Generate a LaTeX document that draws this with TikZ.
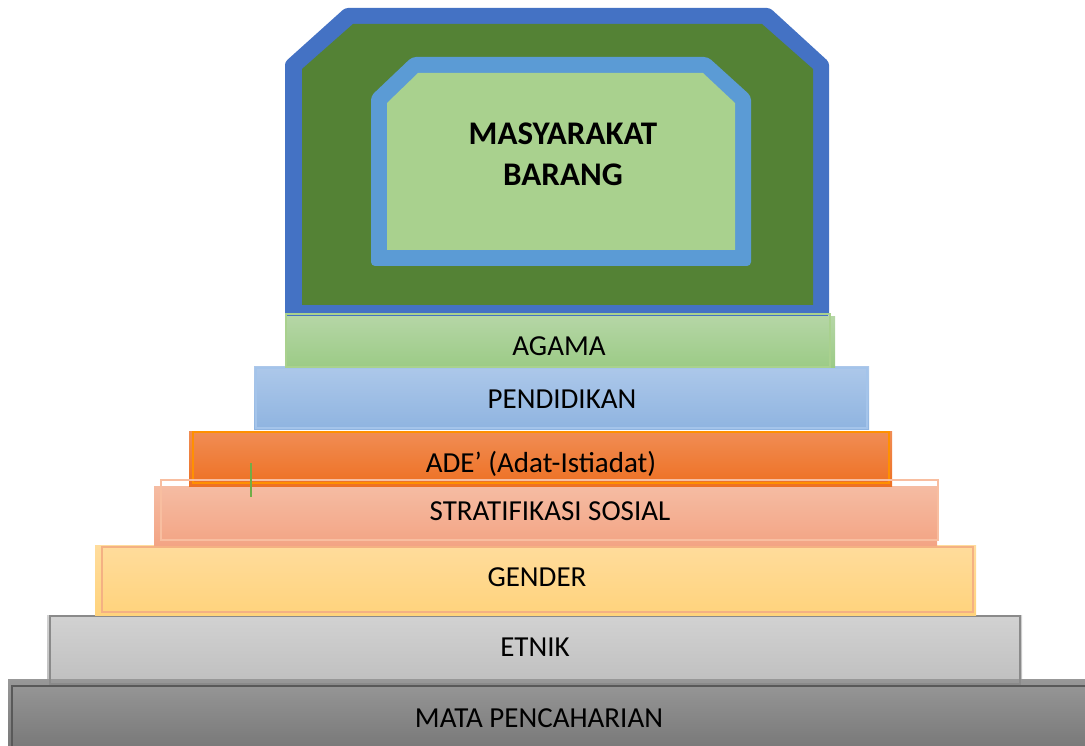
\documentclass[tikz,border=0pt]{standalone}
\usepackage{fontspec}
\setmainfont{Carlito}
\definecolor{oblue}{HTML}{4472C4}
\definecolor{dgreen}{HTML}{548235}
\definecolor{lblue}{HTML}{5B9BD5}
\definecolor{lgreen}{HTML}{A9D18E}
\tikzset{
  layer/.style={rectangle, inner sep=0pt, outer sep=0pt, anchor=north west, draw=none},
  lbl/.style={inner sep=0pt, anchor=base, font=\fontsize{29}{32}\selectfont, text=black},
  ttl/.style={inner sep=0pt, anchor=base, font=\bfseries\fontsize{33}{36}\selectfont, text=black},
  edge/.style={line width=1.2pt, fill=none}
}
\begin{document}
\begin{tikzpicture}[x=1pt,y=-1pt]
\useasboundingbox (0,0) rectangle (1085,746);
% ETNIK fill
\node[layer, minimum width=975pt, minimum height=70pt, top color={rgb,255:red,210;green,210;blue,210}, bottom color={rgb,255:red,191;green,191;blue,191}] (etnik) at (47,615) {};
% MATA PENCAHARIAN
\node[layer, minimum width=1090pt, minimum height=70pt, top color={rgb,255:red,152;green,152;blue,152}, bottom color={rgb,255:red,120;green,120;blue,120}] (mata) at (8,679) {};
\draw[edge, draw={rgb,255:red,89;green,89;blue,89}] (12,686) rectangle (1092,752);
\draw[edge, draw={rgb,255:red,138;green,138;blue,138}] (50,616) rectangle (1020,684);
% GENDER
\node[layer, minimum width=881pt, minimum height=70pt, top color={rgb,255:red,255;green,220;blue,156}, bottom color={rgb,255:red,255;green,211;blue,124}] (gender) at (95,545) {};
\draw[edge, draw={rgb,255:red,244;green,177;blue,131}] (102,547) rectangle (973,612);
% STRATIFIKASI
\node[layer, minimum width=783pt, minimum height=59pt, top color={rgb,255:red,245;green,188;blue,163}, bottom color={rgb,255:red,243;green,164;blue,132}] (strat) at (154,486) {};
% ADE
\node[layer, minimum width=703pt, minimum height=55pt, top color={rgb,255:red,240;green,141;blue,85}, bottom color={rgb,255:red,238;green,112;blue,34}] (ade) at (189,431) {};
\draw[edge, draw={rgb,255:red,255;green,144;blue,0}] (193,432) rectangle (889,483);
\draw[edge, draw={rgb,255:red,248;green,190;blue,160}] (161,480) rectangle (938,540);
\draw[line width=1.5pt, draw={rgb,255:red,112;green,173;blue,71}] (251,463) -- (251,497);
% PENDIDIKAN
\node[layer, minimum width=615pt, minimum height=63pt, top color={rgb,255:red,173;green,200;blue,234}, bottom color={rgb,255:red,143;green,180;blue,224}] (pend) at (254,366) {};
\draw[edge, draw={rgb,255:red,164;green,196;blue,234}] (256,368) rectangle (867,428);
% top shape
\path[fill=oblue, rounded corners=3pt] (285,317) -- (285,62) -- (345,8) -- (770,8) -- (829,62) -- (829,317) -- cycle;
\path[fill=dgreen] (302,305) -- (302,69) -- (353,24) -- (762,24) -- (813,69) -- (813,305) -- cycle;
\path[fill=lblue, rounded corners=4pt] (371,266) -- (371,96) -- (412,57) -- (708,57) -- (751,96) -- (751,266) -- cycle;
\path[fill=lgreen] (387,250) -- (387,103) -- (418,73) -- (703,73) -- (735,103) -- (735,250) -- cycle;
\node[ttl] (title1) at (563,145) {MASYARAKAT};
\node[ttl] (title2) at (563,186) {BARANG};
% AGAMA
\node[layer, minimum width=549pt, minimum height=51pt, top color={rgb,255:red,181;green,214;blue,166}, bottom color={rgb,255:red,156;green,203;blue,134}] (agama) at (286,316) {};
\draw[line width=1.5pt, draw=lgreen] (286,314) rectangle (830,367);
% labels
\node[lbl] (tagama) at (559,355) {AGAMA};
\node[lbl] (tpend) at (562,408) {PENDIDIKAN};
\node[lbl] (tade) at (541,472) {ADE’ (Adat-Istiadat)};
\node[lbl] (tstrat) at (550,520) {STRATIFIKASI SOSIAL};
\node[lbl] (tgender) at (537,586) {GENDER};
\node[lbl] (tetnik) at (535,656) {ETNIK};
\node[lbl] (tmata) at (539,727) {MATA PENCAHARIAN};
\end{tikzpicture}
\end{document}
